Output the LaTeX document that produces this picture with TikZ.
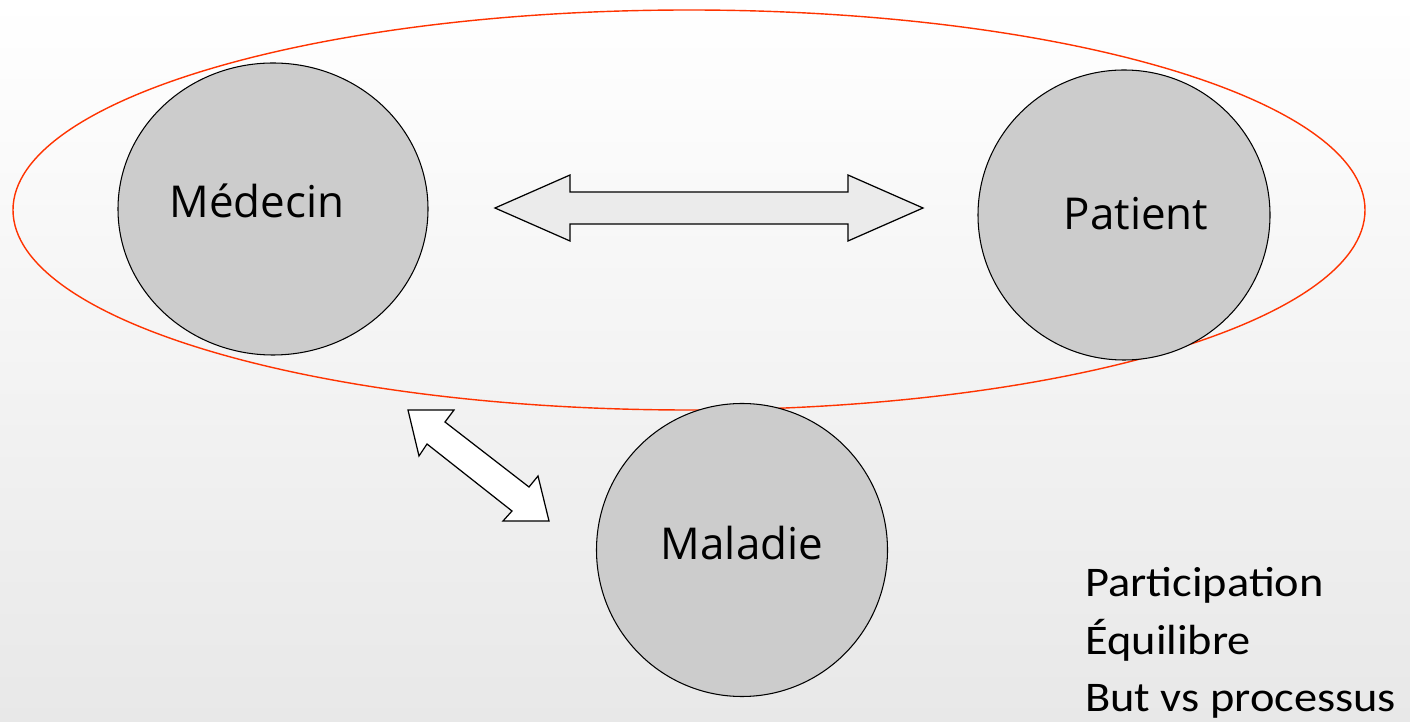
\documentclass[tikz,border=0pt]{standalone}
\usepackage{fontspec}
\setmainfont{Open Sans}
\newfontfamily\listfont[FakeStretch=1.1]{Carlito}
\usetikzlibrary{positioning,shapes.geometric}

\definecolor{discgray}{HTML}{CCCCCC}
\definecolor{shaftgray}{HTML}{EBEBEB}
\definecolor{ringred}{HTML}{FF3300}

\tikzset{
  actor/.style={draw=black, ellipse, fill=discgray, line width=0.6pt, inner sep=0pt},
  tag/.style={anchor=base, inner sep=0pt, font=\fontsize{25}{30}\selectfont},
  note/.style={anchor=base west, inner sep=0pt, font=\listfont\fontsize{24}{30}\selectfont},
  blockarrow/.style={draw=black, line width=0.7pt, line join=miter},
}

\begin{document}
\begin{tikzpicture}[x=0.02cm, y=-0.02cm]
% background
\shade[top color=white, bottom color=black!9] (0,0) rectangle (1410,722);
\useasboundingbox (0,0) rectangle (1410,722);

% the ring round doctor and patient
\draw[ringred, line width=0.8pt] (689,210) ellipse [x radius=676, y radius=200];

% actors
\node[actor, minimum width=310*0.02cm, minimum height=292*0.02cm] (medecin) at (273,209) {};
\node[actor, minimum width=292*0.02cm, minimum height=290*0.02cm] (patient) at (1124,215) {};
\node[actor, minimum width=291*0.02cm, minimum height=293*0.02cm] (maladie) at (742,550) {};
\node[tag] (medecin-t) at (257,218) {M\'edecin};
\node[tag] (patient-t) at (1136,230) {Patient};
\node[tag] (maladie-t) at (742,560) {Maladie};

% block arrow between medecin and patient
\draw[blockarrow, fill=shaftgray] (495,208) -- (570,175) -- (570,192) -- (848,192) -- (848,175)
  -- (923,208) -- (848,241) -- (848,224) -- (570,224) -- (570,241) -- cycle;

% block arrow between medecin and maladie
\draw[blockarrow, fill=white] (408,410) -- (454,410) -- (445,422) -- (529,487) -- (538,476)
  -- (549,521) -- (503,521) -- (512,511) -- (427,444) -- (419,456) -- cycle;

% notes
\node[note] (note1) at (1085,597) {Participation};
\node[note] (note2) at (1085,654) {\'Equilibre};
\node[note] (note3) at (1085,711) {But vs processus};
\end{tikzpicture}
\end{document}
